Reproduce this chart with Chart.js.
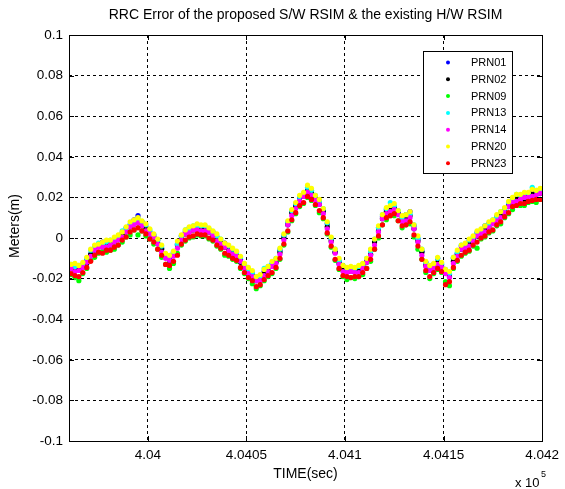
<!DOCTYPE html>
<html>
<head>
<meta charset="utf-8">
<title>RRC Error</title>
<script src="https://cdn.jsdelivr.net/npm/chart.js@4.4.1/dist/chart.umd.min.js"></script>
<style>
  html, body { margin: 0; padding: 0; background: #fff; }
  #wrap { width: 565px; height: 489px; }
</style>
</head>
<body>
<div id="wrap"><canvas id="rrc" width="565" height="489"></canvas></div>
<script>
// sample times (sec)
const timeSec = [
  403961,403963,403965,403967,403969,403971,403973,403975,403977,403979,
  403981,403983,403985,403987,403989,403991,403993,403995,403997,403999,
  404001,404003,404005,404007,404009,404011,404013,404015,404017,404019,
  404021,404023,404025,404027,404029,404031,404033,404035,404037,404039,
  404041,404043,404045,404047,404049,404051,404053,404055,404057,404059,
  404061,404063,404065,404067,404069,404071,404073,404075,404077,404079,
  404081,404083,404085,404087,404089,404091,404093,404095,404097,404099,
  404101,404103,404105,404107,404109,404111,404113,404115,404117,404119,
  404121,404123,404125,404127,404129,404131,404133,404135,404137,404139,
  404141,404143,404145,404147,404149,404151,404153,404155,404157,404159,
  404161,404163,404165,404167,404169,404171,404173,404175,404177,404179,
  404181,404183,404185,404187,404189,404191,404193,404195,404197,404199
];

// RRC error per satellite (m)
const prn01 = [
  -0.014,-0.0135,-0.015,-0.013,-0.0105,-0.008,-0.004,-0.0035,-0.002,-0.003,
  -0.002,-0.0005,-0.0005,0.0025,0.005,0.0065,0.009,0.011,0.008,0.0055,
  0.003,0.0015,-0.001,-0.005,-0.009,-0.010,-0.007,-0.003,0.001,0.003,
  0.005,0.0055,0.0065,0.0055,0.0045,0.004,0.003,0.0005,-0.002,-0.0025,
  -0.0045,-0.006,-0.008,-0.0105,-0.013,-0.0155,-0.018,-0.0195,-0.0185,-0.0165,
  -0.0145,-0.013,-0.0115,-0.006,0.001,0.0075,0.013,0.0165,0.020,0.0215,
  0.0235,0.0235,0.020,0.018,0.0135,0.007,-0.0005,-0.007,-0.0115,-0.014,
  -0.0155,-0.0145,-0.016,-0.015,-0.013,-0.011,-0.006,-0.0015,0.005,0.0105,
  0.014,0.015,0.015,0.0125,0.010,0.0115,0.013,0.006,-0.0005,-0.0065,
  -0.012,-0.015,-0.013,-0.010,-0.013,-0.016,-0.018,-0.010,-0.0075,-0.004,
  -0.0035,-0.0015,0.000,0.0025,0.0035,0.006,0.007,0.008,0.0105,0.012,
  0.0145,0.0165,0.0195,0.020,0.021,0.021,0.021,0.023,0.0225,0.0235
];
const prn02 = [
  -0.0145,-0.016,-0.0155,-0.0145,-0.0125,-0.008,-0.006,-0.004,-0.004,-0.003,
  -0.0035,-0.002,0.000,0.0015,0.003,0.0055,0.0075,0.0075,0.007,0.0045,
  0.002,0.0005,-0.0025,-0.0055,-0.0095,-0.0115,-0.0085,-0.0035,-0.0005,0.002,
  0.0035,0.004,0.004,0.005,0.004,0.003,0.001,-0.0005,-0.002,-0.0045,
  -0.006,-0.0065,-0.0085,-0.012,-0.0145,-0.016,-0.0185,-0.021,-0.020,-0.0175,
  -0.016,-0.0135,-0.012,-0.007,0.000,0.0065,0.0125,0.0155,0.018,0.0205,
  0.023,0.0225,0.019,0.0165,0.013,0.0055,-0.0015,-0.007,-0.0125,-0.0155,
  -0.016,-0.0165,-0.016,-0.015,-0.0135,-0.012,-0.008,-0.002,0.0035,0.0095,
  0.013,0.014,0.0145,0.012,0.0085,0.0095,0.011,0.0045,-0.0015,-0.007,
  -0.0135,-0.016,-0.014,-0.012,-0.014,-0.017,-0.019,-0.0115,-0.008,-0.0055,
  -0.0045,-0.0025,-0.001,0.001,0.003,0.004,0.0055,0.0075,0.009,0.011,
  0.0135,0.0155,0.018,0.0195,0.0195,0.019,0.0205,0.0215,0.022,0.022
];
const prn09 = [
  -0.018,-0.0195,-0.021,-0.0175,-0.015,-0.011,-0.0095,-0.0075,-0.0065,-0.007,
  -0.006,-0.0055,-0.0035,-0.002,0.0005,0.0015,0.004,0.0015,0.0035,0.001,
  -0.0005,-0.003,-0.0055,-0.0095,-0.013,-0.015,-0.0125,-0.0075,-0.0035,-0.0015,
  0.000,0.0005,0.0015,0.001,0.001,-0.0005,-0.0015,-0.004,-0.0055,-0.0085,
  -0.009,-0.0105,-0.0115,-0.015,-0.0175,-0.020,-0.0225,-0.025,-0.0235,-0.021,
  -0.019,-0.0175,-0.015,-0.0105,-0.0035,0.003,0.0085,0.012,0.0155,0.017,
  0.020,0.0185,0.016,0.0125,0.0095,0.002,-0.0045,-0.011,-0.0155,-0.019,
  -0.0205,-0.0195,-0.020,-0.019,-0.018,-0.015,-0.0115,-0.0055,0.000,0.0065,
  0.009,0.011,0.011,0.0085,0.005,0.0065,0.007,0.0005,-0.0055,-0.0105,
  -0.017,-0.020,-0.0175,-0.0155,-0.017,-0.0215,-0.0235,-0.015,-0.0115,-0.009,
  -0.0075,-0.0065,-0.004,-0.005,-0.0005,0.0005,0.0025,0.0035,0.006,0.007,
  0.010,0.012,0.014,0.016,0.016,0.016,0.0175,0.018,0.0175,0.019
];
const prn13 = [
  -0.013,-0.014,-0.0135,-0.0135,-0.010,-0.006,-0.004,-0.0025,-0.003,-0.002,
  -0.001,-0.0005,0.001,0.0035,0.005,0.0065,0.0085,0.0095,0.008,0.0065,
  0.004,0.0015,-0.001,-0.004,-0.008,-0.009,-0.007,-0.003,0.001,0.004,
  0.0045,0.006,0.006,0.006,0.006,0.0045,0.0025,0.001,-0.0005,-0.003,
  -0.004,-0.0055,-0.007,-0.0095,-0.013,-0.0155,-0.017,-0.019,-0.019,-0.015,
  -0.014,-0.0125,-0.010,-0.0055,0.0015,0.008,0.0135,0.017,0.0205,0.022,
  0.025,0.0235,0.021,0.018,0.0145,0.0075,0.000,-0.0055,-0.011,-0.0135,
  -0.015,-0.0145,-0.015,-0.014,-0.013,-0.010,-0.0065,-0.0005,0.005,0.0115,
  0.0145,0.0175,0.016,0.0135,0.010,0.0115,0.012,0.0065,0.000,-0.0055,
  -0.012,-0.014,-0.013,-0.010,-0.0125,-0.0155,-0.0175,-0.0095,-0.007,-0.0035,
  -0.003,-0.001,0.0005,0.003,0.004,0.006,0.007,0.009,0.0105,0.013,
  0.0145,0.0175,0.0195,0.0215,0.021,0.022,0.022,0.025,0.0235,0.0235
];
const prn14 = [
  -0.015,-0.0165,-0.016,-0.0145,-0.012,-0.009,-0.006,-0.0045,-0.0045,-0.0045,
  -0.0035,-0.002,-0.001,0.0005,0.003,0.0055,0.0065,0.0075,0.006,0.0035,
  0.002,0.0005,-0.003,-0.007,-0.010,-0.011,-0.009,-0.005,-0.001,0.002,
  0.0025,0.004,0.004,0.0035,0.0035,0.003,0.001,-0.0015,-0.003,-0.0045,
  -0.0065,-0.008,-0.009,-0.0115,-0.015,-0.0175,-0.019,-0.021,-0.021,-0.0185,
  -0.0165,-0.014,-0.0125,-0.008,-0.001,0.0065,0.011,0.0145,0.018,0.0205,
  0.0225,0.021,0.0185,0.0165,0.012,0.0045,-0.002,-0.0075,-0.013,-0.0165,
  -0.017,-0.0165,-0.017,-0.017,-0.015,-0.012,-0.0085,-0.0035,0.003,0.0095,
  0.012,0.013,0.014,0.0115,0.008,0.0085,0.010,0.0045,-0.002,-0.0085,
  -0.014,-0.016,-0.015,-0.013,-0.0145,-0.0175,-0.0195,-0.0125,-0.009,-0.0055,
  -0.005,-0.004,-0.0015,0.001,0.002,0.003,0.005,0.007,0.0085,0.010,
  0.0125,0.0155,0.0175,0.018,0.019,0.020,0.020,0.0205,0.021,0.022
];
const prn20 = [
  -0.013,-0.0125,-0.0135,-0.012,-0.0095,-0.0055,-0.0035,-0.003,-0.002,-0.001,
  -0.001,0.0005,0.0015,0.003,0.0055,0.008,0.009,0.010,0.0085,0.007,
  0.0045,0.002,-0.0005,-0.0035,-0.0075,-0.0085,-0.0065,-0.0015,0.0015,0.004,
  0.0055,0.006,0.007,0.0065,0.0065,0.005,0.0035,0.002,-0.0005,-0.0025,
  -0.0035,-0.005,-0.0065,-0.009,-0.0125,-0.0145,-0.016,-0.019,-0.018,-0.0155,
  -0.014,-0.0115,-0.010,-0.005,0.002,0.0085,0.014,0.0175,0.021,0.0225,
  0.026,0.0245,0.021,0.019,0.0145,0.008,0.0005,-0.0055,-0.010,-0.0135,
  -0.0145,-0.014,-0.0145,-0.0135,-0.0125,-0.010,-0.0055,-0.0005,0.006,0.0115,
  0.015,0.016,0.017,0.0135,0.011,0.0115,0.013,0.0065,0.001,-0.0055,
  -0.0115,-0.0135,-0.0125,-0.0095,-0.012,-0.0155,-0.0165,-0.0095,-0.006,-0.0035,
  -0.0025,-0.0005,0.001,0.0035,0.0045,0.006,0.008,0.009,0.0115,0.013,
  0.015,0.018,0.020,0.0215,0.0215,0.0225,0.0225,0.024,0.0235,0.0245
];
const prn23 = [
  -0.0175,-0.0185,-0.019,-0.017,-0.0145,-0.0115,-0.0085,-0.007,-0.0075,-0.006,
  -0.006,-0.0045,-0.0035,-0.001,0.0005,0.003,0.004,0.005,0.0035,0.002,
  -0.0005,-0.002,-0.0055,-0.0085,-0.013,-0.0135,-0.0115,-0.0085,-0.003,-0.001,
  0.0005,0.001,0.002,0.0015,0.0015,0.000,-0.001,-0.0035,-0.005,-0.0075,
  -0.0085,-0.010,-0.011,-0.0145,-0.017,-0.0195,-0.021,-0.024,-0.023,-0.0205,
  -0.0185,-0.017,-0.0145,-0.010,-0.003,0.0035,0.009,0.0125,0.016,0.0175,
  0.0205,0.019,0.0165,0.0135,0.010,0.0025,-0.004,-0.0105,-0.015,-0.0185,
  -0.019,-0.0195,-0.019,-0.019,-0.017,-0.015,-0.0105,-0.0055,0.001,0.0065,
  0.010,0.011,0.012,0.0085,0.006,0.0065,0.008,0.0015,-0.004,-0.0105,
  -0.016,-0.019,-0.017,-0.015,-0.0165,-0.023,-0.0215,-0.0145,-0.011,-0.0085,
  -0.007,-0.006,-0.0035,-0.002,0.000,0.001,0.003,0.004,0.0065,0.008,
  0.0105,0.0125,0.0155,0.016,0.017,0.017,0.018,0.0185,0.019,0.019
];

const seriesNames = ['PRN01', 'PRN02', 'PRN09', 'PRN13', 'PRN14', 'PRN20', 'PRN23'];
const seriesValues = [prn01, prn02, prn09, prn13, prn14, prn20, prn23];
const seriesColors = ['#0000ff', '#000000', '#00ff00', '#00ffff', '#ff00ff', '#ffff00', '#ff0000'];

const xTickValues = [404000, 404050, 404100, 404150, 404200];
const xTickLabels = ['4.04', '4.0405', '4.041', '4.0415', '4.042'];
const yTickValues = [-0.1, -0.08, -0.06, -0.04, -0.02, 0, 0.02, 0.04, 0.06, 0.08, 0.1];
const yTickLabels = ['-0.1', '-0.08', '-0.06', '-0.04', '-0.02', '0', '0.02', '0.04', '0.06', '0.08', '0.1'];

const chartTitle = 'RRC Error of the proposed S/W RSIM & the existing H/W RSIM';
const xTitle = 'TIME(sec)';
const yTitle = 'Meters(m)';
const FONT = '"Liberation Sans", Arial, Helvetica, sans-serif';

// Build datasets, last one (PRN23) drawn on top like in MATLAB
const datasets = seriesNames.map((name, k) => ({
    label: name,
    data: timeSec.map((t, i) => ({ x: t, y: seriesValues[k][i] })),
    backgroundColor: seriesColors[k],
    borderColor: seriesColors[k],
    showLine: false,
    order: seriesNames.length - k
}));

// Box, inner ticks, titles and legend drawn the MATLAB way
const framePlugin = {
    id: 'matlabFrame',
    afterDraw(chart) {
        const { ctx, chartArea: a, scales: { x, y } } = chart;
        const L = Math.round(a.left), R = Math.round(a.right);
        const T = Math.round(a.top), B = Math.round(a.bottom);
        ctx.save();
        ctx.setLineDash([]);
        ctx.strokeStyle = '#000';
        ctx.lineWidth = 1;
        ctx.strokeRect(L + 0.5, T + 0.5, R - L, B - T);

        // ticks pointing inside
        ctx.beginPath();
        xTickValues.forEach(v => {
            const px = Math.round(x.getPixelForValue(v)) + 0.5;
            ctx.moveTo(px, B); ctx.lineTo(px, B - 5);
            ctx.moveTo(px, T); ctx.lineTo(px, T + 5);
        });
        yTickValues.forEach(v => {
            const py = Math.round(y.getPixelForValue(v)) + 0.5;
            ctx.moveTo(L, py); ctx.lineTo(L + 5, py);
            ctx.moveTo(R, py); ctx.lineTo(R - 5, py);
        });
        ctx.stroke();

        // titles
        ctx.fillStyle = '#000';
        ctx.textAlign = 'center';
        ctx.textBaseline = 'middle';
        ctx.font = '14px ' + FONT;
        ctx.fillText(chartTitle, (L + R) / 2, 15);
        ctx.fillText(xTitle, (L + R) / 2, 474);
        ctx.save();
        ctx.translate(15, 226);
        ctx.rotate(-Math.PI / 2);
        ctx.fillText(yTitle, 0, 0);
        ctx.restore();

        // axis multiplier
        ctx.textAlign = 'left';
        ctx.font = '13px ' + FONT;
        ctx.fillText('x 10', 515, 483);
        ctx.font = '9px ' + FONT;
        ctx.fillText('5', 541, 475);

        // legend box
        ctx.fillStyle = '#fff';
        ctx.fillRect(423.5, 51.5, 89, 122);
        ctx.strokeRect(423.5, 51.5, 89, 122);
        ctx.font = '11px ' + FONT;
        seriesNames.forEach((name, k) => {
            const ly = 62.5 + k * 16.8;
            ctx.fillStyle = seriesColors[k];
            ctx.beginPath();
            ctx.arc(448, ly, 2, 0, Math.PI * 2);
            ctx.fill();
            ctx.fillStyle = '#000';
            ctx.fillText(name, 471, ly + 0.5);
        });
        ctx.restore();
    }
};

new Chart(document.getElementById('rrc'), {
    type: 'scatter',
    data: { datasets: datasets },
    options: {
        responsive: false,
        animation: false,
        layout: { padding: { left: 0, right: 18, top: 35, bottom: 0 } },
        plugins: {
            legend: { display: false },
            title: { display: false },
            tooltip: { enabled: false }
        },
        elements: {
            point: { radius: 2.6, hoverRadius: 2.6, borderWidth: 0 }
        },
        scales: {
            x: {
                type: 'linear',
                min: 403960,
                max: 404200,
                afterBuildTicks: s => { s.ticks = xTickValues.map(v => ({ value: v })); },
                afterFit: s => { s.height = 48; },
                grid: { color: '#000', lineWidth: 1, drawTicks: false },
                border: { display: false, dash: [3, 3] },
                ticks: {
                    autoSkip: false,
                    maxRotation: 0,
                    padding: 6,
                    color: '#000',
                    font: { family: FONT, size: 13.5 },
                    callback: (v, i) => xTickLabels[i]
                }
            },
            y: {
                type: 'linear',
                min: -0.1,
                max: 0.1,
                afterBuildTicks: s => { s.ticks = yTickValues.map(v => ({ value: v })); },
                afterFit: s => { s.width = 69; },
                grid: { color: '#000', lineWidth: 1, drawTicks: false },
                border: { display: false, dash: [3, 3] },
                ticks: {
                    autoSkip: false,
                    padding: 6,
                    color: '#000',
                    font: { family: FONT, size: 13.5 },
                    callback: (v, i) => yTickLabels[i]
                }
            }
        }
    },
    plugins: [framePlugin]
});
</script>
</body>
</html>
